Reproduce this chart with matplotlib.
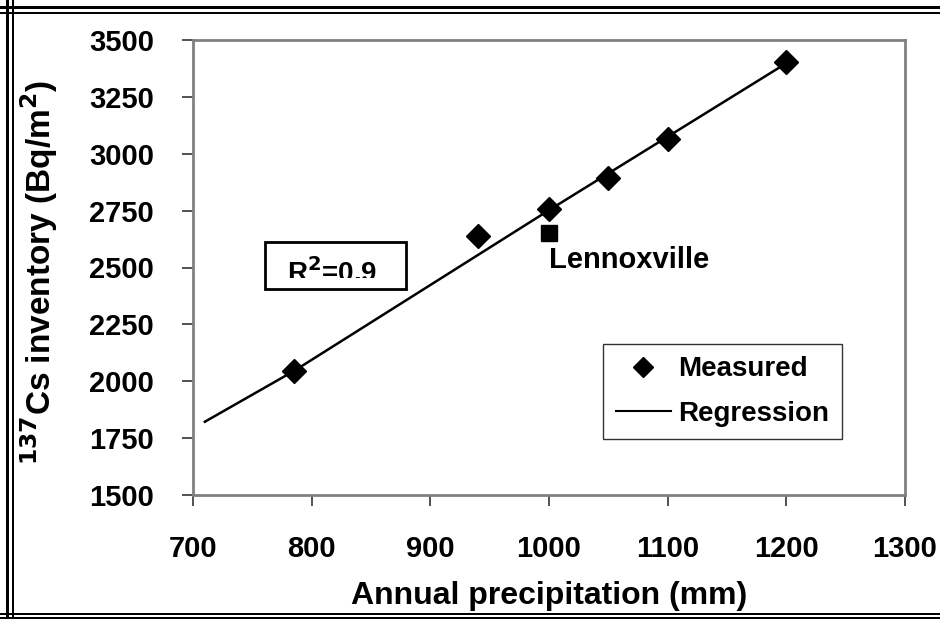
import numpy as np
import matplotlib.pyplot as plt
from matplotlib.lines import Line2D
from matplotlib.patches import Rectangle

plt.rcParams["font.family"] = ["Liberation Sans", "DejaVu Sans"]
plt.rcParams["font.weight"] = "bold"

# Measured 137Cs inventory against annual precipitation
precip = [785, 940, 1000, 1050, 1100, 1200]
inventory = [2045, 2637, 2755, 2892, 3065, 3403]

# Lennoxville site
lenn_precip = [1000]
lenn_inventory = [2651]

# Regression curve vertices
reg_precip = [710, 785, 810, 1000, 1200]
reg_inventory = [1822, 2045, 2127, 2752, 3398]

xticks = [700, 800, 900, 1000, 1100, 1200, 1300]
yticks = [1500, 1750, 2000, 2250, 2500, 2750, 3000, 3250, 3500]

W, H = 940, 619
fig = plt.figure(figsize=(W / 100, H / 100), dpi=100)
ax = fig.add_axes([193 / W, 1 - 495 / H, (905 - 193) / W, (495 - 40) / H])

ax.plot(reg_precip, reg_inventory, color="black", lw=1.8, zorder=2)
ax.plot(precip, inventory, ls="none", marker="D", ms=12, color="black",
        zorder=3)
ax.plot(lenn_precip, lenn_inventory, ls="none", marker="s", ms=12,
        color="black", zorder=3)
ax.text(1000, 2595, "Lennoxville", fontsize=21, fontweight="bold",
        ha="left", va="top")

ax.set_xlim(700, 1300)
ax.set_ylim(1500, 3500)
ax.set_xticks(xticks)
ax.set_yticks(yticks)
ax.tick_params(direction="out", length=8, width=1.2, color="#333333",
               labelsize=21)
ax.tick_params(axis="x", pad=21)
ax.tick_params(axis="y", pad=20)
for lab in ax.get_xticklabels() + ax.get_yticklabels():
    lab.set_fontweight("bold")
for s in ax.spines.values():
    s.set_color("#808080")
    s.set_linewidth(2)

ax.set_xlabel("Annual precipitation (mm)", fontsize=23, fontweight="bold")
ax.xaxis.set_label_coords(0.5, -(596 - 495) / (495 - 40))
ax.xaxis.label.set_va("center")
ax.set_ylabel(r"$\mathbf{^{137}}$Cs inventory (Bq/m$\mathbf{^2}$)",
              fontsize=24, fontweight="bold")
ax.yaxis.set_label_coords(-(193 - 39) / (905 - 193), 0.49)
ax.yaxis.label.set_va("center")

# R-squared box, text clipped by its frame
box = Rectangle((265, H - 289), 141, 47, transform=None, fill=False,
                ec="black", lw=2, zorder=4)
fig.add_artist(box)
t = fig.text(287 / W, 1 - 282 / H, r"R$\mathbf{^2}$=0.9", fontsize=20,
             fontweight="bold", ha="left", va="baseline")
t.set_clip_path(Rectangle((265, H - 278), 141, 36, transform=None))

handles = [
    Line2D([], [], ls="none", marker="D", ms=10, color="black"),
    Line2D([], [], color="black", lw=1.5),
]
leg = ax.legend(handles, ["Measured", "Regression"], loc="upper left",
                bbox_to_anchor=((603 - 193) / (905 - 193), (495 - 344) / (495 - 40)),
                fontsize=20, frameon=True, fancybox=False, borderpad=0.45,
                borderaxespad=0, handlelength=2.0, handletextpad=0.25,
                labelspacing=0.65)
leg.get_frame().set_edgecolor("black")
leg.get_frame().set_linewidth(1)
for txt in leg.get_texts():
    txt.set_fontweight("bold")

# Double border around the figure
for y, lw in [(7, 3), (12.5, 2), (614, 2), (617.5, 3)]:
    fig.add_artist(Line2D([0, 1], [1 - y / H] * 2, transform=fig.transFigure,
                          color="black", lw=lw * 0.72))
for x, lw in [(6.5, 3), (13, 2)]:
    fig.add_artist(Line2D([x / W] * 2, [0, 1], transform=fig.transFigure,
                          color="black", lw=lw * 0.72))

fig.savefig("out.png", dpi=100)
